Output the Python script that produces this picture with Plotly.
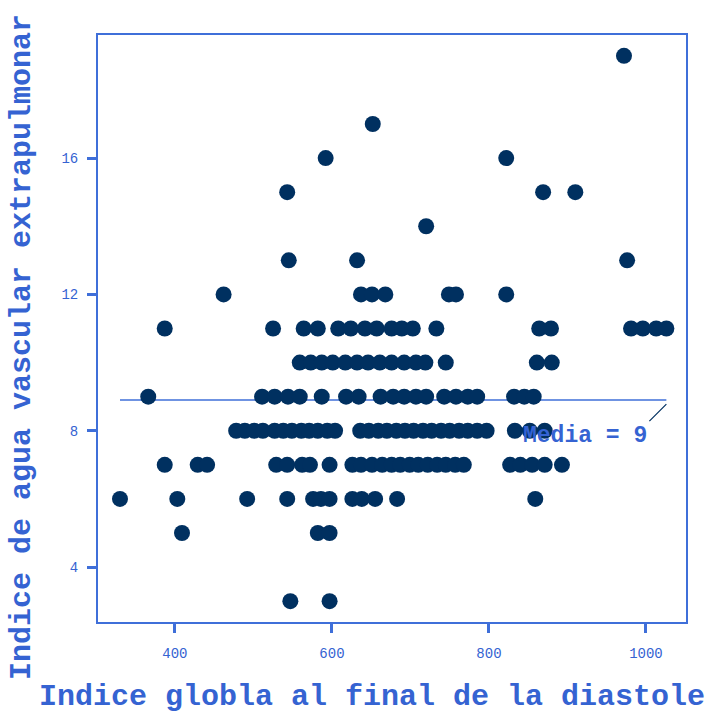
import plotly.graph_objects as go

# Indice global al final de la diastole (x) and Indice de agua vascular extrapulmonar (y)
igfd = [
    972,
    652,
    592, 822,
    543, 869, 910,
    720,
    545, 632, 976,
    462, 637, 651, 668, 749, 758, 822,
    387, 525, 564, 582, 608, 624, 642, 657, 676, 689, 703, 733, 864, 879, 981, 996, 1013, 1026,
    559, 573, 587, 601, 617, 632, 646, 661, 676, 692, 707, 719, 745, 861, 880,
    366, 511, 527, 544, 559, 587, 618, 634, 662, 678, 692, 707, 720, 743, 758, 773, 785, 832, 845, 857,
    478, 489, 501, 512, 527, 538, 549, 561, 571, 582, 594, 604, 636, 647, 659, 670, 682, 693, 704, 716,
    727, 739, 750, 762, 773, 785, 797, 833, 852, 871,
    387, 429, 441, 529, 543, 562, 572, 597, 626, 637, 651, 664, 676, 687, 699, 710, 722, 734, 745, 757,
    768, 827, 840, 855, 871, 893,
    330, 403, 492, 543, 576, 586, 597, 626, 638, 655, 683, 859,
    409, 582, 597,
    547, 597,
]
aevp = (
    [19] * 1 + [17] * 1 + [16] * 2 + [15] * 3 + [14] * 1 + [13] * 3 + [12] * 7
    + [11] * 18 + [10] * 15 + [9] * 20 + [8] * 30 + [7] * 26 + [6] * 12 + [5] * 3 + [3] * 2
)

media = 8.9  # reference line value (labelled "Media = 9")

x_ticks = [400, 600, 800, 1000]
y_ticks = [4, 8, 12, 16]
x_title = "Indice globla al final de la diastole"
y_title = "Indice de agua vascular extrapulmonar"

AX = "#3f6fd9"
TXT = "#3563d2"
DOT = "#003060"
FONT = "Liberation Mono, Courier New, monospace"

fig = go.Figure()
fig.add_trace(go.Scatter(
    x=igfd, y=aevp, mode="markers",
    marker=dict(color=DOT, size=16, line=dict(width=0)),
    showlegend=False,
))

fig.add_shape(type="line", xref="x", yref="y",
              x0=min(igfd), x1=max(igfd), y0=media, y1=media,
              line=dict(color=AX, width=1.5), layer="below")

fig.add_annotation(
    x=max(igfd), y=media, xref="x", yref="y",
    text=f"Media = {round(media)}",
    showarrow=True, arrowhead=0, arrowwidth=1.2, arrowcolor=DOT,
    ax=-17, ay=17, xanchor="right", yanchor="top", yshift=-4,
    font=dict(family=FONT, size=23, color=TXT, weight="bold"),
)

# axis titles placed as text relative to the plot area
fig.add_annotation(
    text=x_title, xref="paper", yref="paper", x=0.466, y=-0.128,
    xanchor="center", yanchor="middle", showarrow=False,
    font=dict(family=FONT, size=30, color=TXT, weight="bold"),
)
fig.add_annotation(
    text=y_title, xref="paper", yref="paper", x=-0.128, y=0.468,
    xanchor="center", yanchor="middle", showarrow=False, textangle=-90,
    font=dict(family=FONT, size=30, color=TXT, weight="bold"),
)

axis_common = dict(
    showline=True, linecolor=AX, linewidth=2, mirror=True,
    ticks="outside", tickcolor=AX, tickwidth=3, ticklen=9,
    showgrid=False, zeroline=False,
    tickfont=dict(family=FONT, size=14, color=TXT),
)

fig.update_xaxes(range=[302, 1051], tickvals=x_ticks, ticklabelstandoff=8, **axis_common)
fig.update_yaxes(range=[2.39, 19.61], tickvals=y_ticks, ticklabelstandoff=6, **axis_common)

fig.update_layout(
    width=715, height=714,
    margin=dict(l=98, r=29, t=35, b=92, autoexpand=False),
    plot_bgcolor="white", paper_bgcolor="white",
)

fig.write_html("out.html", config={"displayModeBar": False},
               post_script="document.body.style.margin='0px';")
